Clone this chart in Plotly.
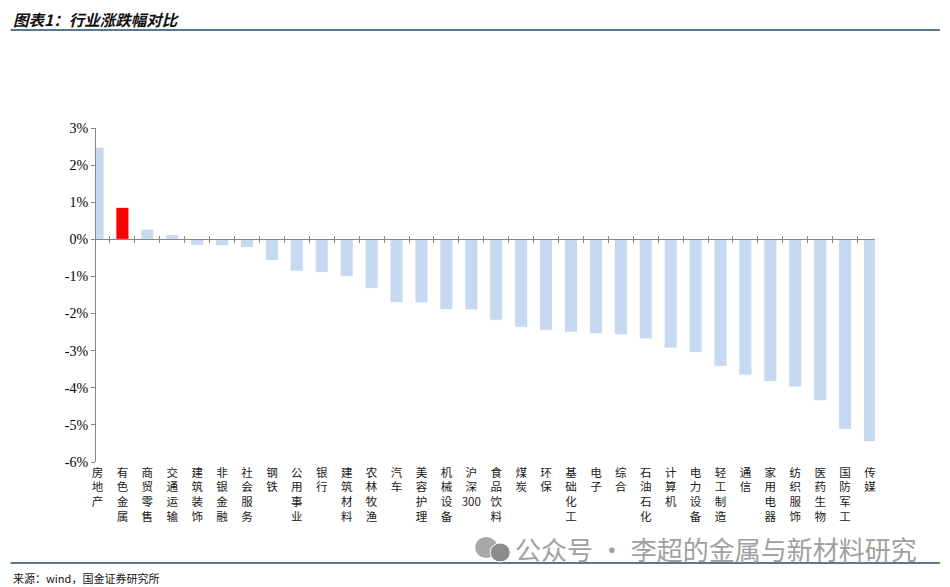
import plotly.graph_objects as go

categories = ["房地产", "有色金属", "商贸零售", "交通运输", "建筑装饰", "非银金融", "社会服务", "钢铁",
              "公用事业", "银行", "建筑材料", "农林牧渔", "汽车", "美容护理", "机械设备", "沪深300",
              "食品饮料", "煤炭", "环保", "基础化工", "电子", "综合", "石油石化", "计算机",
              "电力设备", "轻工制造", "通信", "家用电器", "纺织服饰", "医药生物", "国防军工", "传媒"]
values = [2.48, 0.86, 0.27, 0.13, -0.16, -0.17, -0.22, -0.57,
          -0.86, -0.89, -1.00, -1.32, -1.70, -1.71, -1.89, -1.90,
          -2.18, -2.37, -2.45, -2.50, -2.54, -2.57, -2.68, -2.93,
          -3.05, -3.42, -3.66, -3.83, -3.98, -4.35, -5.12, -5.45]
highlight = "有色金属"
y_ticks = [3, 2, 1, 0, -1, -2, -3, -4, -5, -6]
y_tick_text = [f"{v}%" for v in y_ticks]
title_text = "图表1：行业涨跌幅对比"
source_text = "来源：wind，国金证券研究所"
watermark_text = "公众号 · 李超的金属与新材料研究"


def vertical(label):
    if label == "沪深300":
        return "沪<br>深<br>300"
    return "<br>".join(list(label))


tick_labels = [vertical(c) for c in categories]
colors = ["#FF0000" if c == highlight else "#C6D9F0" for c in categories]

# page offset (browser body margin)
OFF = 8
W, H = 950 - OFF, 587 - OFF
L, R, T, B = 89 - 1.5, W - (875 - OFF), 128 - OFF, H - (462 - OFF)
PW, PH = W - L - R, H - T - B


def px(x):  # page pixel x -> paper
    return (x - OFF - L) / PW


def py(y):  # page pixel y -> paper
    return 1 - (y - OFF - T) / PH


fig = go.Figure()
fig.add_trace(go.Bar(x=categories, y=values, marker=dict(color=colors, line=dict(color="white", width=0.8)),
                     width=0.52, hoverinfo="x+y"))
fig.add_trace(go.Scatter(x=categories, y=[0] * len(categories), xaxis="x2", mode="markers",
                         marker=dict(opacity=0), hoverinfo="skip", showlegend=False))
fig.add_trace(go.Scatter(x=categories, y=[0] * len(categories), xaxis="x3", mode="markers",
                         marker=dict(opacity=0), hoverinfo="skip", showlegend=False))

zero_pos = 6 / 9

fig.update_layout(
    width=W, height=H,
    margin=dict(l=L, r=R, t=T, b=B),
    paper_bgcolor="white", plot_bgcolor="white",
    showlegend=False,
    xaxis=dict(type="category", range=[-0.06, 31.2], showline=False, ticks="", showgrid=False,
               tickmode="array", tickvals=categories, ticktext=tick_labels, tickangle=0,
               tickfont=dict(family="Noto Sans CJK SC", size=11.5, color="#1a1a1a"),
               zeroline=False, ticklabelstandoff=2),
    xaxis2=dict(type="category", matches="x", overlaying="x", anchor="free", position=zero_pos,
                showline=True, linecolor="#868686", linewidth=1, ticks="outside", ticklen=3,
                tickcolor="#868686", tickson="boundaries", showticklabels=False, showgrid=False),
    xaxis3=dict(type="category", matches="x", overlaying="x", anchor="free", position=zero_pos,
                showline=False, ticks="inside", ticklen=3, side="bottom",
                tickcolor="#868686", tickson="boundaries", showticklabels=False, showgrid=False),
    yaxis=dict(range=[-6, 3], tickmode="array", tickvals=y_ticks, ticktext=y_tick_text,
               showline=True, linecolor="#868686", linewidth=1, ticks="outside", ticklen=4,
               tickcolor="#868686", showgrid=False, zeroline=False,
               tickfont=dict(family="Liberation Serif", size=14, color="black")),
    bargap=0.48,
)

fig.add_annotation(text=f"<b><i>{title_text}</i></b>", xref="paper", yref="paper",
                   x=px(11), y=py(19), xanchor="left", yanchor="middle", showarrow=False,
                   borderpad=0,
                   font=dict(family="Noto Sans CJK SC", size=15.5, color="#111111"))
fig.add_annotation(text=source_text, xref="paper", yref="paper",
                   x=px(10), y=py(578), xanchor="left", yanchor="middle", showarrow=False,
                   font=dict(family="Noto Sans CJK SC", size=11, color="#111111"))
fig.add_annotation(text=watermark_text, xref="paper", yref="paper",
                   x=px(919), y=py(548), xanchor="right", yanchor="middle", showarrow=False,
                   font=dict(family="Noto Sans CJK SC", size=26, color="#a0a0a0"))

for yy in (30, 563):
    fig.add_shape(type="line", xref="paper", yref="paper",
                  x0=px(10), x1=px(940), y0=py(yy), y1=py(yy),
                  line=dict(color="#1F4E6E", width=1.5))
# WeChat-like icon bubbles
fig.add_shape(type="circle", xref="paper", yref="paper",
              x0=px(475), x1=px(497), y0=py(558), y1=py(537),
              fillcolor="#a8a8a8", line=dict(width=0))
fig.add_shape(type="circle", xref="paper", yref="paper",
              x0=px(490), x1=px(510), y0=py(562), y1=py(543),
              fillcolor="#8c8c8c", line=dict(color="white", width=1))

fig.write_html("out.html")
